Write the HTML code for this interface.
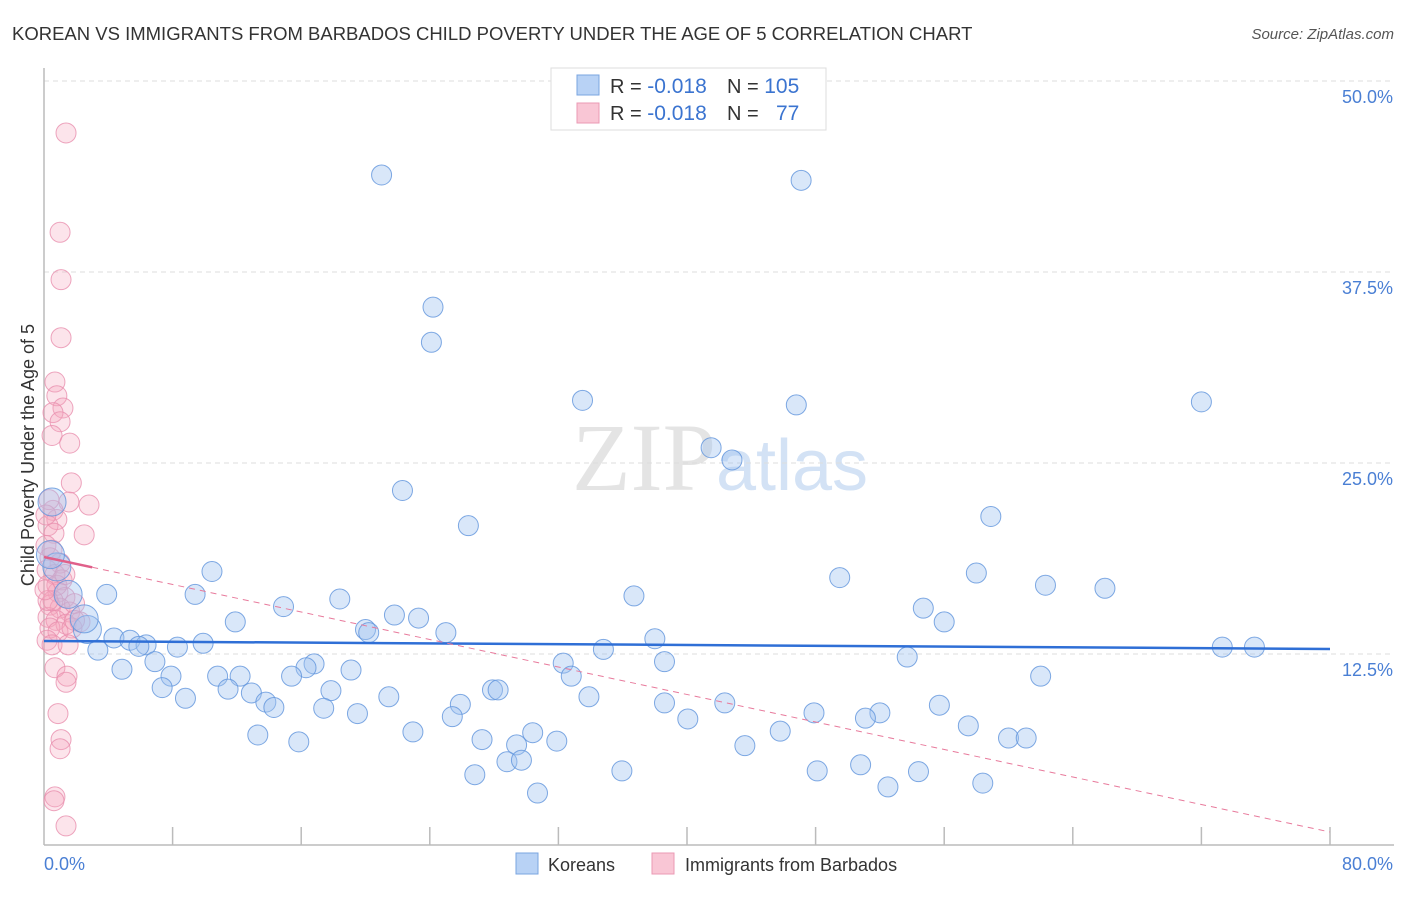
<!DOCTYPE html>
<html><head><meta charset="utf-8"><style>
body{margin:0;background:#fff;font-family:"Liberation Sans",sans-serif;}
svg text{font-family:"Liberation Sans",sans-serif;}
</style></head><body>
<svg id="chart" width="1406" height="892">
<text x="12" y="40" font-size="18.5" fill="#333">KOREAN VS IMMIGRANTS FROM BARBADOS CHILD POVERTY UNDER THE AGE OF 5 CORRELATION CHART</text>
<text x="1394" y="39" font-size="15" fill="#555" text-anchor="end" font-style="italic">Source: ZipAtlas.com</text>
<text x="720" y="490" font-size="96" fill="#e4e4e4" text-anchor="middle" font-family="Liberation Serif"><tspan font-family="Liberation Serif">ZIP</tspan><tspan font-family="Liberation Sans" fill="#d3e2f5" font-size="72">atlas</tspan></text>
<g id="grid"></g>
<g id="axes"></g>
<g id="pts"></g>
<g id="trend"></g>
<text transform="translate(34,455) rotate(-90)" font-size="18" fill="#333" text-anchor="middle">Child Poverty Under the Age of 5</text>
<text x="44" y="870" font-size="18" fill="#4a7fd4">0.0%</text>
<text x="1393" y="870" font-size="18" fill="#4a7fd4" text-anchor="end">80.0%</text>
<g>
<rect x="551" y="68" width="275" height="62" fill="#fff" stroke="#ddd"/>
<rect x="577" y="75" width="22" height="20" fill="#b8d2f5" stroke="#7aa5e0"/>
<rect x="577" y="103" width="22" height="20" fill="#f9c6d5" stroke="#eb9ab4"/>
<text x="610" y="93" font-size="20" fill="#333">R = <tspan fill="#3b74d0" font-size="21">-0.018</tspan><tspan x="727">N = </tspan><tspan fill="#3b74d0" font-size="21">105</tspan></text>
<text x="610" y="120" font-size="20" fill="#333">R = <tspan fill="#3b74d0" font-size="21">-0.018</tspan><tspan x="727">N = </tspan><tspan fill="#3b74d0" x="776" font-size="21">77</tspan></text>
</g>
<g>
<rect x="516" y="853" width="22" height="21" fill="#b8d2f5" stroke="#7aa5e0"/>
<text x="548" y="871" font-size="18" fill="#333">Koreans</text>
<rect x="652" y="853" width="22" height="21" fill="#f9c6d5" stroke="#eb9ab4"/>
<text x="685" y="871" font-size="18" fill="#333">Immigrants from Barbados</text>
</g>
</svg>
<script>
const yTicks=[12.5,25,37.5,50];
const yTickLabels=["12.5%","25.0%","37.5%","50.0%"];
const xTicks=[0,8,16,24,32,40,48,56,64,72,80];
const koreanX=[21.0,47.1,24.2,24.1,33.5,46.8,72.0,41.5,42.8,22.3,26.4,58.9,10.45,3.9,9.4,49.5,58.0,62.3,66.0,36.7,18.4,14.9,21.8,23.3,54.7,56.0,11.9,20.0,20.2,25.0,38.0,4.35,5.35,6.35,5.9,8.3,9.9,3.35,34.8,73.3,75.3,32.3,38.6,53.7,4.85,6.9,7.9,12.2,10.8,16.8,16.3,19.1,15.4,32.8,62.0,7.35,11.45,8.8,12.9,13.8,14.3,17.85,21.45,27.9,28.25,33.9,38.6,42.35,25.9,17.4,19.5,25.4,40.05,47.9,52.0,51.1,55.7,57.5,13.3,15.85,22.95,27.25,30.4,29.4,31.9,43.6,45.8,60.0,61.1,28.8,29.7,26.8,35.95,48.1,50.8,54.4,52.5,58.4,30.7,0.5,0.8,1.5,2.7,2.5,0.4];
const koreanY=[43.85,43.5,35.2,32.9,29.1,28.8,29.0,26.0,25.2,23.2,20.9,21.5,17.9,16.4,16.4,17.5,17.8,17.0,16.8,16.3,16.1,15.6,15.05,14.85,15.5,14.6,14.6,14.1,13.9,13.9,13.5,13.55,13.4,13.1,13.0,12.95,13.2,12.75,12.8,12.95,12.95,11.9,12.0,12.3,11.5,12.0,11.05,11.05,11.05,11.85,11.6,11.45,11.05,11.05,11.05,10.3,10.2,9.6,9.95,9.35,9.0,10.1,9.7,10.15,10.15,9.7,9.3,9.3,9.2,8.95,8.6,8.4,8.25,8.65,8.65,8.3,9.15,7.8,7.2,6.75,7.4,6.9,7.35,6.55,6.8,6.5,7.45,7.0,7.0,5.45,5.55,4.6,4.85,4.85,5.25,4.8,3.8,4.05,3.4,22.45,18.2,16.4,14.1,14.8,19.0];
const barbX=[1.37,1.0,1.06,1.06,0.68,0.8,1.18,0.56,1.0,0.5,1.6,1.7,2.8,1.55,0.56,0.8,0.25,0.62,2.5,0.12,0.37,1.0,0.19,0.68,1.12,0.25,0.87,1.3,0.37,1.0,1.6,1.9,0.25,0.75,1.37,2.24,0.37,0.87,1.74,0.19,0.5,1.5,0.68,1.43,1.37,0.87,1.06,1.0,0.68,0.62,1.37,0.31,0.12,0.56,0.8,1.3,0.25,1.9,0.5,0.06];
const barbY=[46.6,40.1,37.0,33.2,30.3,29.4,28.6,28.3,27.7,26.8,26.3,23.7,22.25,22.45,21.9,21.3,20.9,20.4,20.3,19.6,18.8,18.45,18.0,17.7,17.35,17.0,16.55,16.2,15.7,15.5,15.25,15.8,14.9,14.7,14.45,14.6,14.2,13.95,14.2,13.4,13.1,13.1,11.6,11.05,10.65,8.6,6.9,6.3,3.15,2.9,1.25,22.6,21.6,16.0,17.0,17.7,16.0,14.7,19.3,16.7];
const koreanTrend=[13.35,12.83];
const barbTrend=[18.85,0.85];
const NS="http://www.w3.org/2000/svg";
const X0=44,X1=1330,Y0=845,Y50=81;
function sx(v){return X0+v/80*(X1-X0);}
function sy(v){return Y0-v/50*(Y0-Y50);}
function mk(t,a,p){const e=document.createElementNS(NS,t);for(const k in a)e.setAttribute(k,a[k]);p.appendChild(e);return e;}
const grid=document.getElementById('grid'),axes=document.getElementById('axes'),pts=document.getElementById('pts'),tr=document.getElementById('trend');
yTicks.forEach((v,i)=>{
 const l=mk('line',{x1:X0,x2:1394,y1:sy(v),y2:sy(v),stroke:'#ddd','stroke-dasharray':'5,4'},grid);
 
 
 const t=mk('text',{x:1393,y:sy(v)+22,'font-size':18,fill:'#4a7fd4','text-anchor':'end'},axes);
 t.textContent=yTickLabels[i];
 
 
});
let a=mk('line',{x1:X0,x2:X0,y1:68,y2:Y0,stroke:'#bbb','stroke-width':1.5},axes);


a=mk('line',{x1:X0,x2:1394,y1:Y0,y2:Y0,stroke:'#bbb','stroke-width':1.5},axes);


xTicks.forEach(v=>{if(v===0)return;
 const t=mk('line',{x1:sx(v),x2:sx(v),y1:Y0-18,y2:Y0,stroke:'#bbb','stroke-width':1.5},axes);
 
 
});
barbX.forEach((v,i)=>{
 const c=mk('circle',{cx:sx(v),cy:sy(barbY[i]),r:10,fill:'rgba(245,165,190,0.3)',stroke:'rgba(233,143,174,0.8)','stroke-width':1},pts);
 
 
});
koreanX.forEach((v,i)=>{
 const c=mk('circle',{cx:sx(v),cy:sy(koreanY[i]),r:i>=99?14:10,fill:'rgba(160,196,240,0.4)',stroke:'rgba(95,147,220,0.8)','stroke-width':1},pts);
 
 
});
let l=mk('line',{x1:sx(0),y1:sy(koreanTrend[0]),x2:sx(80),y2:sy(koreanTrend[1]),stroke:'#2f6fd6','stroke-width':2.5},tr);


const bAt=x=>barbTrend[0]+(barbTrend[1]-barbTrend[0])*x/80;
l=mk('line',{x1:sx(3),y1:sy(bAt(3)),x2:sx(80),y2:sy(bAt(80)),stroke:'#e87a9c','stroke-width':1,'stroke-dasharray':'6,5'},tr);


l=mk('line',{x1:sx(0),y1:sy(bAt(0)),x2:sx(3),y2:sy(bAt(3)),stroke:'#e0608a','stroke-width':2.5},tr);


</script>
</body></html>
